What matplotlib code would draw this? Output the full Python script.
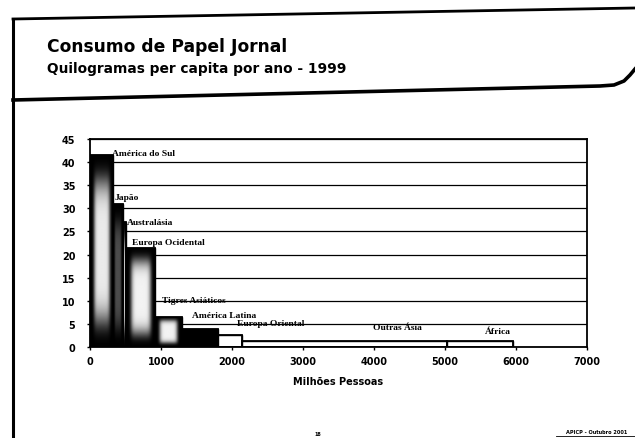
"""
Consumo de papel jornal por regiao: barras de largura variavel (populacao).
"""
import numpy as np
import matplotlib.pyplot as plt

regioes = ['América do Sul', 'Japão', 'Australásia', 'Europa Ocidental',
           'Tigres Asiáticos', 'América Latina', 'Europa Oriental',
           'Outras Ásia', 'África']
populacao = [330, 140, 40, 410, 380, 510, 330, 2890, 930]      # milhoes de pessoas
consumo = [41.5, 31.0, 27.0, 21.5, 6.5, 4.0, 2.7, 1.3, 1.4]    # kg per capita

# where each region name sits (data coords, left/center of text)
lab_x = [305, 352, 517, 587, 1010, 1432, 2066, 3986, 5563]
lab_y = [42.0, 32.4, 27.0, 22.8, 10.1, 6.9, 5.1, 4.3, 3.5]
# lightness in the middle of each bar (scanned gradient look)
shades = [0.92, 0.3, 0.8, 0.95, 0.95, 0.0, 1.0, 1.0, 1.0]

lefts = np.concatenate([[0], np.cumsum(populacao)[:-1]])

fig = plt.figure(figsize=(6.35, 4.39), dpi=100)

# slide frame drawn in pixel coordinates
bg = fig.add_axes([0, 0, 1, 1], zorder=-1)
bg.set_xlim(0, 635)
bg.set_ylim(439, 0)
bg.axis('off')
bg.plot([13, 635], [20, 9], color='black', lw=2)
bg.plot([13, 13], [20, 439], color='black', lw=2.2)
bg.plot([13, 600, 614, 624, 630, 635], [101, 87, 86, 82, 76, 70], color='black', lw=2.6)
bg.text(47, 47, 'Consumo de Papel Jornal', fontsize=12.3, fontweight='bold',
        va='center', ha='left')
bg.text(47, 69, 'Quilogramas per capita por ano - 1999', fontsize=9.9,
        fontweight='bold', va='center', ha='left')
bg.text(597, 433, 'APICP - Outubro 2001', fontsize=3.6, fontweight='bold',
        ha='center', va='center')
bg.plot([556, 635], [437.5, 437.5], color='black', lw=0.6)
bg.text(318, 435, '18', fontsize=3.5, fontweight='bold', ha='center', va='center')

ax = fig.add_axes([0.1417, 0.2073, 0.7827, 0.4738])

bars = ax.bar(lefts, consumo, populacao, align='edge', color='black',
              edgecolor='black', linewidth=1, zorder=2)

xx = np.linspace(0, 1, 80)
yy = np.linspace(0, 1, 80)
hx = np.exp(-((xx - 0.5) / 0.34) ** 6)
vy = np.exp(-((yy - 0.5) / 0.38) ** 6)
for b, s in zip(bars, shades):
    if s >= 1.0:
        b.set_facecolor('white')
        continue
    if s <= 0.0:
        continue
    z = s * np.outer(vy, hx)
    x0, w, h = b.get_x(), b.get_width(), b.get_height()
    im = ax.imshow(z, cmap='gray', vmin=0, vmax=1, origin='lower', aspect='auto',
                   extent=(x0, x0 + w, 0, h), zorder=2.5, interpolation='bilinear')
    im.set_clip_path(b)

ax.bar(lefts, consumo, populacao, align='edge', fill=False,
       edgecolor='black', linewidth=1.3, zorder=3)

for name, x, y in zip(regioes, lab_x, lab_y):
    ax.text(x, y, name, fontsize=6.8, fontweight='bold', family='Liberation Serif',
            ha='left', va='center', zorder=4)

ax.set_xlim(0, 7000)
ax.set_ylim(0, 45)
ax.set_xticks(np.arange(0, 7001, 1000))
ax.set_yticks(np.arange(0, 46, 5))
ax.yaxis.grid(True, color='black', linewidth=0.9)
ax.set_axisbelow(True)
ax.tick_params(axis='both', labelsize=7, direction='out', length=2.5,
               width=1, color='black')
ax.tick_params(axis='y', pad=8)
ax.tick_params(axis='x', pad=4)
for lab in ax.get_xticklabels() + ax.get_yticklabels():
    lab.set_fontweight('bold')
for sp in ax.spines.values():
    sp.set_linewidth(1.3)
ax.set_xlabel('Milhões Pessoas', fontsize=7, fontweight='bold', labelpad=7)

fig.savefig('out.png', dpi=100)
